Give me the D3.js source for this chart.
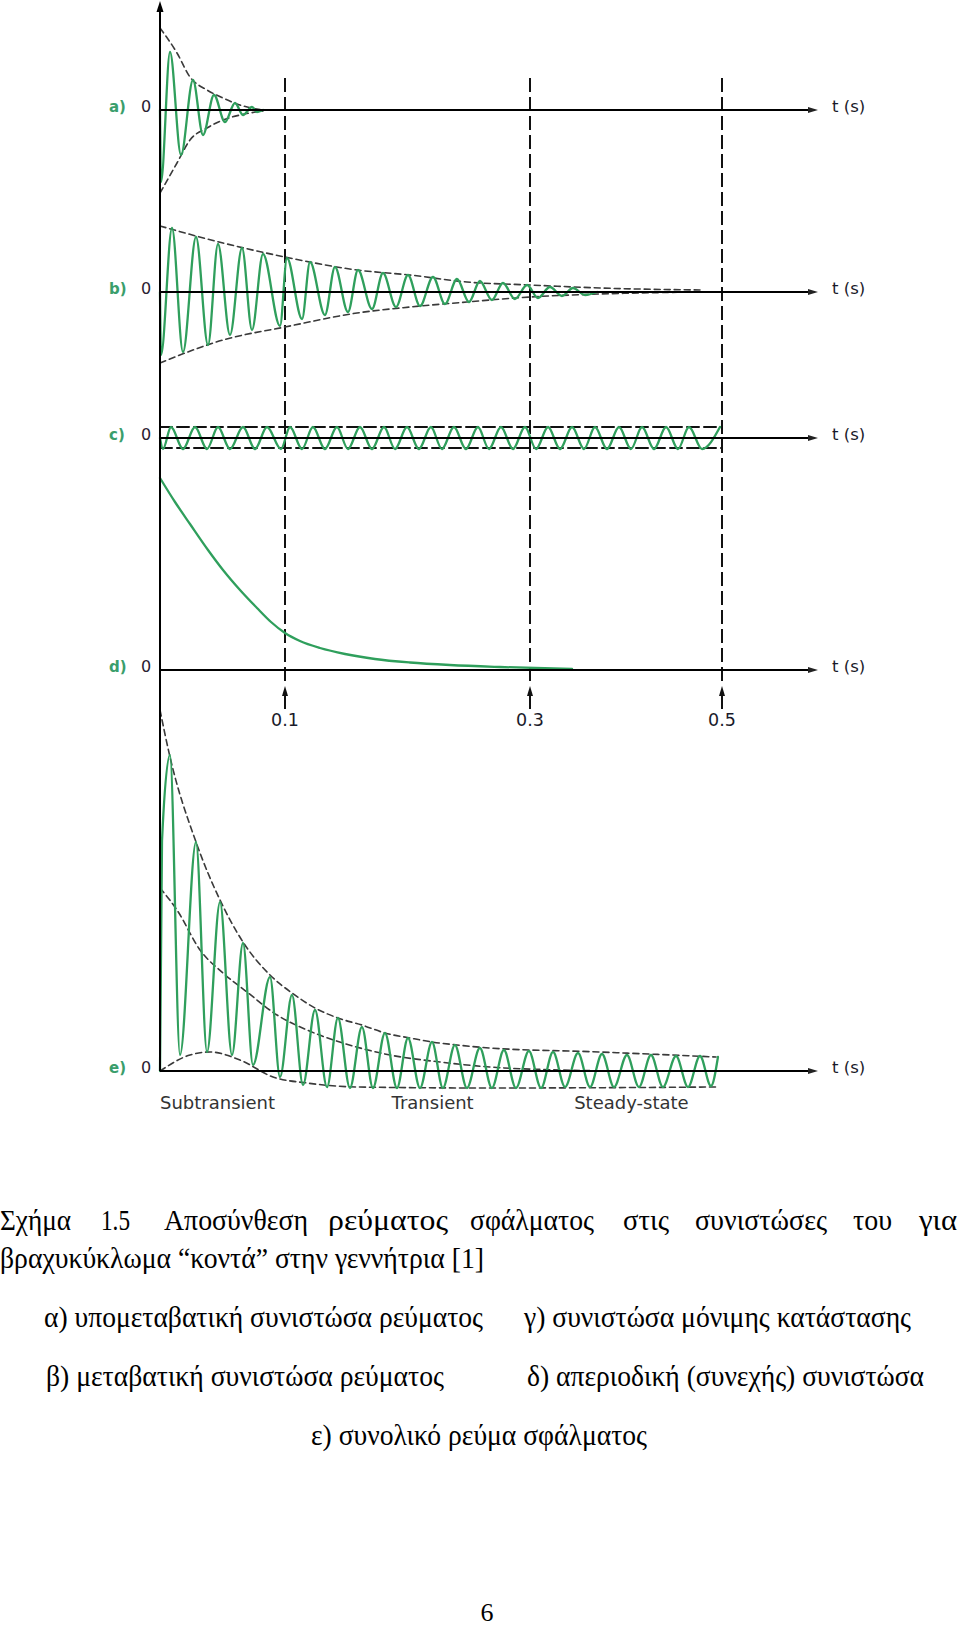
<!DOCTYPE html>
<html><head><meta charset="utf-8">
<script src="https://cdn.jsdelivr.net/npm/d3@7"></script>
<style>body{margin:0;background:#fff} svg{display:block}</style>
</head><body>
<svg id="c" width="960" height="1628"></svg>
<script>
// ---------------- DATA ----------------
const panelNames = ["a)", "b)", "c)", "d)", "e)"];
const zeroLabel = "0";
const axisLabel = "t (s)";
const tickTimes = [0.1, 0.3, 0.5];
const tickLabels = ["0.1", "0.3", "0.5"];
const phaseLabels = ["Subtransient", "Transient", "Steady-state"];
const phaseStartT = [0, 0.187, 0.346];

// a) subtransient component (extrema, relative units)
const aT = [0, 0.0008, 0.008, 0.0168, 0.0264, 0.0344, 0.0432, 0.052, 0.06, 0.0664, 0.0736, 0.0776, 0.0824];
const aV = [0, -72, 58, -45, 30, -25, 15, -12, 7, -5, 3, -2, 0];
const aEnvT = [0, 0.0136, 0.024, 0.0376, 0.0504, 0.064, 0.0824];
const aEnvUp = [82, 57, 33, 20, 12, 5, 0];
const aEnvLo = [-83, -53, -30, -18, -10, -5, -1];

// b) transient component
const bT = [0, 0.0008, 0.0096, 0.0184, 0.0288, 0.0384, 0.0464, 0.056, 0.0656, 0.0736, 0.0824, 0.096,
  0.1016, 0.1139, 0.1204, 0.1326, 0.1408, 0.1514, 0.1596, 0.1710, 0.1800, 0.1906,
  0.2004, 0.2102, 0.2208, 0.2306, 0.2404, 0.2502, 0.2591, 0.2689, 0.2779, 0.2877,
  0.2976, 0.3083, 0.3208, 0.3333, 0.3448, 0.3573, 0.3698];
const bV = [0, -63, 64, -60, 55, -53, 48, -43, 44, -38, 38, -34,
  34, -27, 30, -23, 25, -20, 22, -17, 19, -15,
  17, -14, 15, -12, 13, -10, 11, -8, 9, -7,
  7, -6, 5, -4, 4, -3, 0];
const bEnvT = [0, 0.0504, 0.1, 0.1588, 0.202, 0.2485, 0.3, 0.3729, 0.4771];
const bEnvUp = [66, 49, 35, 22, 17, 10, 7, 4, 2];
const bEnvLo = [-71, -48, -35, -21, -15, -10, -5, -2, 0];

// c) steady-state component
const cT = [0, 0.0024, 0.0088, 0.0184, 0.028, 0.0376, 0.0464, 0.056, 0.0664, 0.076, 0.0856, 0.0968,
  0.1041, 0.1139, 0.1228, 0.1326, 0.1424, 0.1514, 0.1612, 0.1710, 0.1808, 0.1898, 0.1996,
  0.2093, 0.2191, 0.2281, 0.2379, 0.2477, 0.2575, 0.2665, 0.2763, 0.2861, 0.2959,
  0.3063, 0.3188, 0.3313, 0.3438, 0.3563, 0.3677, 0.3802, 0.3927, 0.4052, 0.4167,
  0.4292, 0.4417, 0.4542, 0.4656, 0.4792, 0.4979];
const cV = [0, -11, 11, -11, 11, -11, 11, -11, 11, -11, 11, -11,
  11, -11, 11, -11, 11, -11, 11, -11, 11, -11, 11,
  -11, 11, -11, 11, -11, 11, -11, 11, -11, 11,
  -11, 11, -11, 11, -11, 11, -11, 11, -11, 11,
  -11, 11, -11, 11, -11, 11];
const cEnvT = [0, 0.5];
const cEnvUp = [11, 11];
const cEnvLo = [-10, -10];

// d) aperiodic (DC) component
const dT = [0, 0.012, 0.024, 0.0384, 0.0504, 0.064, 0.0776, 0.0888, 0.1, 0.1122, 0.1286, 0.149, 0.1734, 0.202, 0.2346, 0.2755, 0.3438];
const dV = [192, 168, 146, 120, 100, 80, 62, 48, 37, 29, 22, 16, 11, 7.5, 5, 3, 1];

// e) total fault current
const eT = [0, 0.0016, 0.008, 0.016, 0.0288, 0.0376, 0.048, 0.0576, 0.0664, 0.0744,
  0.088, 0.096, 0.1057, 0.1147, 0.1245, 0.1343, 0.1432, 0.1530, 0.1628, 0.1718,
  0.1816, 0.1914, 0.2004, 0.2102, 0.2200, 0.2289, 0.2387, 0.2485, 0.2591, 0.2689,
  0.2787, 0.2885, 0.2991, 0.3115, 0.3240, 0.3365, 0.3500, 0.3625, 0.3750, 0.3875,
  0.4010, 0.4135, 0.4260, 0.4385, 0.4521, 0.4646, 0.4771, 0.4885, 0.4958];
const eV = [0, 230, 316, 16, 229, 19, 169, 16, 128, 6,
  94, -6, 76, -14, 61, -16, 53, -17, 44, -17,
  38, -17, 33, -17, 29, -17, 26, -17, 23, -17,
  21, -17, 20, -17, 19, -16, 18, -16, 17, -16,
  16, -16, 16, -16, 15, -16, 15, -15, 14];
const eUpT = [0, 0.008, 0.0288, 0.048, 0.0664, 0.088, 0.1057, 0.1245, 0.1432, 0.1628, 0.1816, 0.2020, 0.2200, 0.2404, 0.2673, 0.3729, 0.4938];
const eUpV = [361, 314, 229, 171, 129, 96, 78, 63, 53, 46, 38, 33, 29, 26, 23, 19, 14];
const eMidT = [0, 0.0136, 0.032, 0.0504, 0.0696, 0.0936, 0.1180, 0.1473, 0.1857, 0.2265, 0.2673, 0.3313, 0.3938];
const eMidV = [183, 161, 121, 98, 79, 56, 41, 28, 16, 9, 4, 1, 0];
const eLoT = [0, 0.024, 0.04, 0.064, 0.0904, 0.1180, 0.1588, 0.2673, 0.4938];
const eLoV = [0, 16, 19, 11, -6, -12, -16, -17, -16];

// caption texts
const captionLine1 = ["Σχήμα", "1.5", "Αποσύνθεση", "ρεύματος", "σφάλματος", "στις", "συνιστώσες", "του", "για"];
const captionLine2 = "βραχυκύκλωμα “κοντά” στην γεννήτρια [1]";
const legendItems = ["α) υπομεταβατική συνιστώσα ρεύματος", "γ) συνιστώσα μόνιμης κατάστασης",
  "β) μεταβατική συνιστώσα ρεύματος", "δ) απεριοδική (συνεχής) συνιστώσα", "ε) συνολικό ρεύμα σφάλματος"];
const pageNumber = "6";

// ---------------- DRAWING ----------------
const svg = d3.select("#c");
const x = d3.scaleLinear().domain([0, 0.1, 0.3, 0.5, 0.6]).range([160, 285, 530, 722, 818]);
const baselines = [110, 292, 438, 670, 1071];
const yScales = baselines.map(b => d3.scaleLinear().domain([-100, 100]).range([b + 100, b - 100]));

const GREEN = "#2f9f5c";
const zip = (T, V) => T.map((t, i) => ({t, v: V[i]}));
function curve(ys, T, V, opts) {
  const line = d3.line().x(d => x(d.t)).y(d => ys(d.v)).curve(opts.curve || d3.curveMonotoneX);
  svg.append("path").attr("d", line(zip(T, V)))
    .attr("fill", "none").attr("stroke", opts.color)
    .attr("stroke-width", opts.width)
    .attr("stroke-dasharray", opts.dash || null)
    .attr("stroke-linejoin", "round").attr("stroke-linecap", "round");
}
const envStyle = {color: "#3a3a3a", width: 1.6, dash: "6,4"};
const waveStyle = {color: GREEN, width: 2.3};
const sans = "DejaVu Sans";

// dashed time markers
tickTimes.forEach((t, i) => {
  const xx = x(t);
  svg.append("line").attr("x1", xx).attr("x2", xx).attr("y1", 78).attr("y2", 686)
    .attr("stroke", "#111").attr("stroke-width", 2).attr("stroke-dasharray", "14,5");
  svg.append("line").attr("x1", xx).attr("x2", xx).attr("y1", 694).attr("y2", 709)
    .attr("stroke", "#111").attr("stroke-width", 2);
  svg.append("path").attr("d", `M${xx},686 L${xx - 3},696 L${xx + 3},696 Z`).attr("fill", "#111");
  svg.append("text").attr("x", xx).attr("y", 726).attr("text-anchor", "middle")
    .attr("font-family", sans).attr("font-size", 17.5).attr("fill", "#1a1a2a")
    .text(tickLabels[i]);
});

// envelopes & waves
curve(yScales[0], aEnvT, aEnvUp, envStyle);
curve(yScales[0], aEnvT, aEnvLo, envStyle);
curve(yScales[0], aT, aV, waveStyle);

curve(yScales[1], bEnvT, bEnvUp, envStyle);
curve(yScales[1], bEnvT, bEnvLo, envStyle);
curve(yScales[1], bT, bV, waveStyle);

curve(yScales[2], cEnvT, cEnvUp, {color: "#111", width: 2, dash: "12,5", curve: d3.curveLinear});
curve(yScales[2], cEnvT, cEnvLo, {color: "#111", width: 2, dash: "12,5", curve: d3.curveLinear});
curve(yScales[2], cT, cV, waveStyle);

curve(yScales[3], dT, dV, waveStyle);

curve(yScales[4], eUpT, eUpV, envStyle);
curve(yScales[4], eMidT, eMidV, envStyle);
curve(yScales[4], eLoT, eLoV, envStyle);
curve(yScales[4], eT, eV, waveStyle);

// axes
const dom = x.domain();
const [t0, tEnd] = [dom[0], dom[dom.length - 1]];
svg.append("line").attr("x1", x(t0)).attr("x2", x(t0)).attr("y1", 8).attr("y2", baselines[4])
  .attr("stroke", "#000").attr("stroke-width", 2);
svg.append("path").attr("d", `M${x(t0)},1 L${x(t0) - 3.5},12 L${x(t0) + 3.5},12 Z`).attr("fill", "#000");

baselines.forEach((b, i) => {
  svg.append("line").attr("x1", x(t0)).attr("x2", x(tEnd) - 6).attr("y1", b).attr("y2", b)
    .attr("stroke", "#000").attr("stroke-width", 2);
  svg.append("path").attr("d", `M${x(tEnd)},${b} L${x(tEnd) - 10},${b - 3} L${x(tEnd) - 10},${b + 3} Z`).attr("fill", "#222");
  svg.append("text").attr("x", 832).attr("y", b + 2).attr("font-family", sans)
    .attr("font-size", 16.5).attr("fill", "#1a1a2a").text(axisLabel);
  svg.append("text").attr("x", 109).attr("y", b + 2).attr("font-family", sans)
    .attr("font-size", 15).attr("font-weight", "bold").attr("fill", "#3a9e6c").text(panelNames[i]);
  svg.append("text").attr("x", 146).attr("y", b + 2).attr("text-anchor", "middle").attr("font-family", sans)
    .attr("font-size", 16).attr("fill", "#2a2030").text(zeroLabel);
});

// phase labels under e)
phaseLabels.forEach((s, i) => {
  svg.append("text").attr("x", x(phaseStartT[i])).attr("y", baselines[4] + 38)
    .attr("font-family", sans).attr("font-size", 18).attr("fill", "#333")
    .text(s);
});

// caption
const serif = "Liberation Serif";
const fs = 29;
const l1x = [0, 101, 164, 328, 470, 623, 695, 853, 919];
const l1w = [71, 29, 144, 120, 124, 46, 132, 39, 38];
captionLine1.forEach((w, i) => {
  svg.append("text").attr("x", l1x[i]).attr("y", 1230).attr("font-family", serif).attr("font-size", fs)
    .attr("textLength", l1w[i]).attr("lengthAdjust", "spacingAndGlyphs").attr("fill", "#000").text(w);
});
svg.append("text").attr("x", 0).attr("y", 1268).attr("font-family", serif).attr("font-size", fs)
  .attr("textLength", 484).attr("lengthAdjust", "spacingAndGlyphs").attr("fill", "#000").text(captionLine2);
const legPos = [[44, 1327, 439], [524, 1327, 387], [46, 1386, 398], [527, 1386, 397], [311, 1445, 336]];
legendItems.forEach((s, i) => {
  const [lx, ly, lw] = legPos[i];
  svg.append("text").attr("x", lx).attr("y", ly).attr("font-family", serif).attr("font-size", fs)
    .attr("textLength", lw).attr("lengthAdjust", "spacingAndGlyphs").attr("fill", "#000").text(s);
});
svg.append("text").attr("x", 487).attr("y", 1621).attr("text-anchor", "middle").attr("font-family", serif)
  .attr("font-size", 26).attr("fill", "#000").text(pageNumber);
</script>
</body></html>
